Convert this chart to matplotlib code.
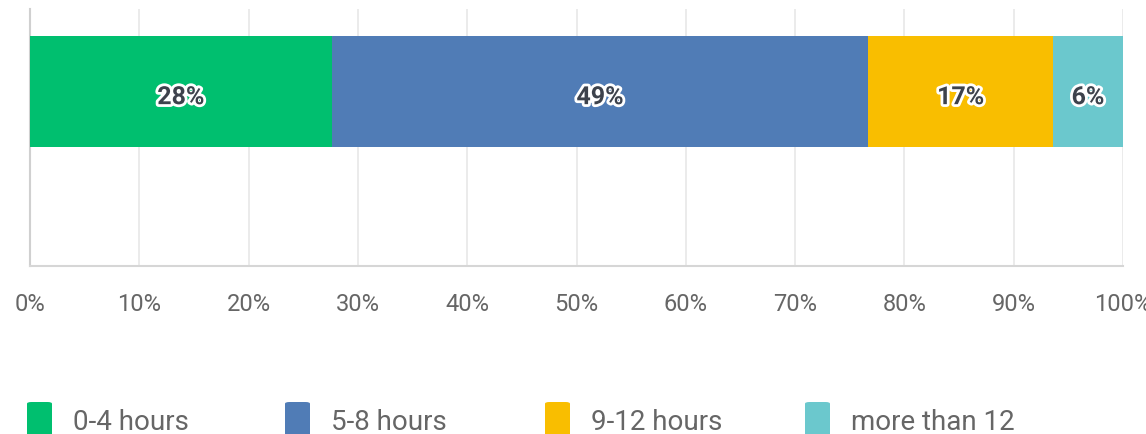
import matplotlib
matplotlib.use("Agg")
import matplotlib.pyplot as plt
import matplotlib.patheffects as pe
from matplotlib.patches import FancyBboxPatch

categories = ["0-4 hours", "5-8 hours", "9-12 hours", "more than 12"]
values = [27.6, 49.1, 16.9, 6.4]
labels = ["28%", "49%", "17%", "6%"]
colors = ["#00BF6F", "#507CB6", "#F9BE00", "#6BC8CD"]
ticks = [0, 10, 20, 30, 40, 50, 60, 70, 80, 90, 100]
tick_labels = [f"{t}%" for t in ticks]

plt.rcParams['font.family'] = ['Roboto', 'DejaVu Sans']

fig = plt.figure(figsize=(11.46, 4.35), dpi=100)
ax = fig.add_axes([30/1146, 1-267/435, 1093/1146, 257/435])

left = 0
for v, c, lab in zip(values, colors, labels):
    ax.barh(0.321, v, left=left, height=0.432, color=c, zorder=3)
    ax.text(left + v/2, 0.343, lab, ha='center', va='center', fontsize=18,
            color='#3d424c', fontweight='bold', zorder=4,
            path_effects=[pe.withStroke(linewidth=4, foreground='white')])
    left += v

ax.set_xlim(0, 100)
ax.set_ylim(1, 0)
ax.set_xticks(ticks)
ax.set_xticklabels(tick_labels, fontsize=17, color='#666666')
ax.tick_params(axis='x', length=0, pad=19)
ax.set_yticks([])
ax.grid(axis='x', color='#e8e8e8', linewidth=1.2, zorder=0)
for s in ['top', 'right']:
    ax.spines[s].set_visible(False)
ax.spines['left'].set_color('#d0d0d0')
ax.spines['left'].set_linewidth(1.5)
ax.spines['bottom'].set_color('#d6d6d6')
ax.spines['bottom'].set_linewidth(1.5)

# legend
xs = [27, 285, 545, 805]
for x, c, name in zip(xs, colors, categories):
    p = FancyBboxPatch((x/1146, 1-440/435), 25/1146, 37/435,
                       boxstyle="round,pad=0,rounding_size=0.004",
                       transform=fig.transFigure, facecolor=c, edgecolor='none')
    fig.patches.append(p)
    fig.text((x+46)/1146, 1-423/435, name, ha='left', va='center',
             fontsize=20, color='#666666')

fig.savefig("out.png", dpi=100)
